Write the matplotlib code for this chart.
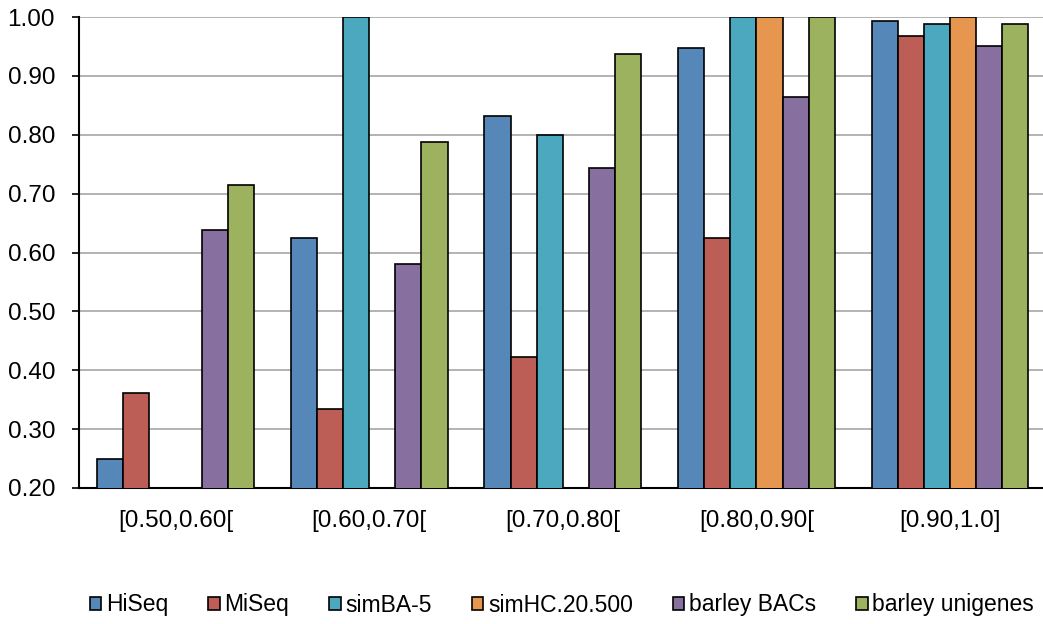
import matplotlib
matplotlib.use("Agg")
import matplotlib.pyplot as plt
import numpy as np

plt.rcParams['font.family'] = ['Liberation Sans', 'DejaVu Sans']

categories = ["[0.50,0.60[", "[0.60,0.70[", "[0.70,0.80[", "[0.80,0.90[", "[0.90,1.0]"]
series_names = ["HiSeq", "MiSeq", "simBA-5", "simHC.20.500", "barley BACs", "barley unigenes"]
hiseq = [0.250, 0.625, 0.832, 0.947, 0.994]
miseq = [0.362, 0.334, 0.422, 0.625, 0.968]
simba5 = [0.0, 1.000, 0.800, 1.000, 0.988]
simhc = [0.0, 0.0, 0.0, 1.000, 1.000]
barley_bacs = [0.638, 0.581, 0.743, 0.864, 0.950]
barley_unigenes = [0.714, 0.787, 0.938, 1.000, 0.988]
yticks = [0.20, 0.30, 0.40, 0.50, 0.60, 0.70, 0.80, 0.90, 1.00]

series = [hiseq, miseq, simba5, simhc, barley_bacs, barley_unigenes]
colors = ["#5587B9", "#BD5E56", "#4BA8BE", "#E6964E", "#87709F", "#9DB25F"]

fig = plt.figure(figsize=(10.43, 6.24), dpi=100)
ax = fig.add_axes([78.7/1043, (624-488)/624, (1043-78.7)/1043, 471/624])

x = np.arange(len(categories))
w = 0.135
for i, (vals, name, c) in enumerate(zip(series, series_names, colors)):
    ax.bar(x + (i - 2.5) * w, vals, width=w, color=c, edgecolor="black",
           linewidth=1.2, label=name, zorder=3)

ax.set_ylim(0.2, 1.0)
ax.set_xlim(-0.5, 4.48)
ax.set_yticks(yticks)
ax.set_yticklabels([f"{v:.2f}" for v in yticks], fontsize=17.5)
ax.set_xticks(x)
ax.set_xticklabels(categories, fontsize=17.5)
ax.tick_params(axis='x', length=0, pad=16)
ax.tick_params(axis='y', length=5, width=1.2, pad=12)
ax.yaxis.grid(True, color="#A6A6A6", linewidth=1.2, zorder=0)
ax.set_axisbelow(True)
for s in ["top", "right"]:
    ax.spines[s].set_visible(False)
ax.spines["left"].set_linewidth(1.5)
ax.spines["bottom"].set_linewidth(1.5)

fig.legend(loc="center", bbox_to_anchor=(562/1043, 1 - 605/624), ncol=6,
           frameon=False, fontsize=16.5, handlelength=0.5, handleheight=0.5,
           handletextpad=0.2, columnspacing=1.75)

fig.savefig("out.png", dpi=100)
